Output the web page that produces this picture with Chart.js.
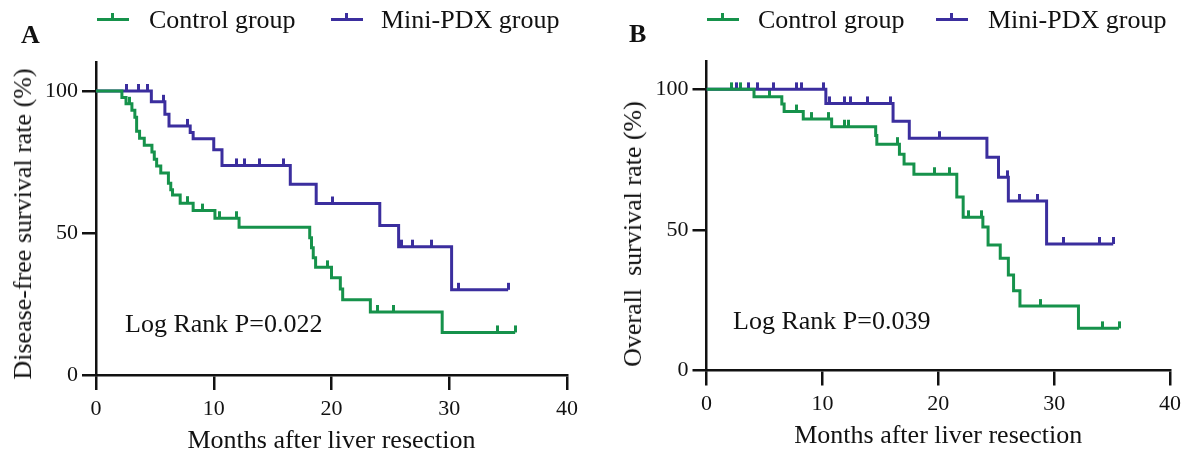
<!DOCTYPE html>
<html>
<head>
<meta charset="utf-8">
<script src="https://cdn.jsdelivr.net/npm/chart.js@4.4.1/dist/chart.umd.min.js"></script>
<style>
  body { margin: 0; background: #fff; }
  #wrap { position: relative; width: 1189px; height: 458px; overflow: hidden; font-family: "Liberation Serif", "Times New Roman", serif; color: #111; }
  .box { position: absolute; top: 0; height: 458px; }
  .txt { position: absolute; font-size: 26px; line-height: 26px; white-space: pre; }
  .ylab { transform: translate(-50%, -50%) rotate(-90deg); }
  .panel { font-weight: bold; }
  .mk { position: absolute; height: 0; border-top: 3px solid; }
  .mk i { position: absolute; left: 14px; top: -8px; width: 3px; height: 6px; }
</style>
</head>
<body>
<div id="wrap">
  <div class="box" style="left:0;width:600px"><canvas id="chartA"></canvas></div>
  <div class="box" style="left:600px;width:589px"><canvas id="chartB"></canvas></div>

  <div class="txt panel" style="left:21px;top:22px">A</div>
  <div class="mk" style="left:97px;top:18px;width:32px;border-color:#16924b"><i style="background:#16924b"></i></div>
  <div class="txt" style="left:149px;top:7px">Control group</div>
  <div class="mk" style="left:331px;top:18px;width:32px;border-color:#3b2e9e"><i style="background:#3b2e9e"></i></div>
  <div class="txt" style="left:381px;top:7px">Mini-PDX group</div>
  <div class="txt ylab" style="left:23px;top:224px">Disease-free survival rate (%)</div>
  <div class="txt" style="left:125px;top:311px">Log Rank P=0.022</div>

  <div class="txt panel" style="left:629px;top:21px">B</div>
  <div class="mk" style="left:707px;top:18px;width:32px;border-color:#16924b"><i style="background:#16924b"></i></div>
  <div class="txt" style="left:758px;top:7px">Control group</div>
  <div class="mk" style="left:936px;top:18px;width:32px;border-color:#3b2e9e"><i style="background:#3b2e9e"></i></div>
  <div class="txt" style="left:988px;top:7px">Mini-PDX group</div>
  <div class="txt ylab" style="left:633px;top:234px">Overall  survival rate (%)</div>
  <div class="txt" style="left:733px;top:308px">Log Rank P=0.039</div>
</div>
<script>
"use strict";
// x axis ticks (months) and y axis ticks (%)
var monthTicks = [0, 10, 20, 30, 40];
var rateTicks = [0, 50, 100];

// A: disease-free survival, control group
var dfsCtrlTimes = [2.2, 2.55, 3.05, 3.3, 3.45, 3.7, 4.1, 4.75, 4.95, 5.15, 5.5, 6.15, 6.35, 6.5, 7.15, 8.25, 10.1, 12.15, 18.15, 18.3, 18.45, 18.65, 20.0, 20.75, 20.95, 23.3, 29.4];
var dfsCtrlRate  = [97.7, 95.5, 93.2, 90.8, 85.8, 83.4, 80.9, 78.5, 76.0, 73.6, 71.1, 67.5, 65.2, 63.4, 60.5, 57.9, 55.2, 52.0, 48.3, 44.8, 41.3, 37.9, 34.2, 30.3, 26.5, 22.2, 15.0];
var dfsCtrlCens  = [2.85, 7.75, 9.05, 10.5, 11.95, 19.7, 23.9, 25.3, 34.1, 35.6];
// A: disease-free survival, Mini-PDX group
var dfsPdxTimes = [4.7, 5.85, 6.2, 8.0, 8.25, 10.0, 10.7, 16.5, 18.7, 24.1, 25.7, 30.2];
var dfsPdxRate  = [96.2, 91.8, 87.7, 85.4, 83.2, 79.3, 73.8, 67.2, 60.4, 52.6, 45.2, 30.0];
var dfsPdxCens  = [2.55, 3.6, 4.4, 5.75, 7.8, 11.95, 12.6, 13.9, 15.9, 20.1, 25.95, 26.9, 28.5, 30.8, 35.0];

// B: overall survival, control group
var osCtrlTimes = [4.1, 6.5, 6.7, 8.35, 10.8, 14.6, 14.7, 16.65, 17.05, 17.9, 21.6, 22.15, 23.85, 24.3, 25.35, 26.05, 26.5, 27.05, 32.1];
var osCtrlRate  = [97.4, 94.8, 92.1, 89.4, 86.7, 83.6, 80.5, 76.9, 73.4, 69.8, 61.7, 54.5, 51.0, 44.6, 39.9, 34.0, 28.4, 22.9, 15.0];
var osCtrlCens  = [2.15, 2.95, 5.4, 7.8, 9.05, 10.55, 11.95, 12.25, 16.5, 19.7, 21.0, 22.6, 23.7, 28.8, 34.2, 35.6];
// B: overall survival, Mini-PDX group
var osPdxTimes = [10.3, 16.1, 17.5, 24.2, 25.2, 26.05, 29.35];
var osPdxRate  = [95.0, 88.6, 82.6, 75.8, 68.7, 60.3, 45.0];
var osPdxCens  = [2.55, 3.6, 4.4, 5.75, 7.8, 8.2, 10.1, 10.6, 11.95, 12.4, 13.9, 15.9, 20.15, 25.95, 27.0, 28.6, 30.8, 33.9, 35.1];

var GREEN = '#16924b', BLUE = '#3b2e9e', INK = '#111';
var FONT = '"Liberation Serif", "Times New Roman", serif';

function levelAt(times, rate, t) {
    var s = 100;
    for (var i = 0; i < times.length; i++) { if (times[i] <= t) s = rate[i]; }
    return s;
}
function curve(times, rate, cens) {
    var pts = [{ x: 0, y: 100 }];
    for (var i = 0; i < times.length; i++) pts.push({ x: times[i], y: rate[i] });
    var end = Math.max.apply(null, cens.concat(times));
    pts.push({ x: end, y: levelAt(times, rate, end) });
    return pts;
}
function censored(times, rate, cens) {
    return cens.map(function (t) { return { x: t, y: levelAt(times, rate, t) }; });
}
function tickImage(color) {
    var c = document.createElement('canvas');
    c.width = 3; c.height = 16;
    var g = c.getContext('2d');
    g.fillStyle = color;
    g.fillRect(0, 1, 3, 7);
    return c;
}

function makeChart(id, box, groups) {
    var datasets = [];
    groups.forEach(function (gr) {
        datasets.push({ type: 'line', data: curve(gr.t, gr.r, gr.c), borderColor: gr.color, borderWidth: 3,
            stepped: 'before', pointRadius: 0, fill: false, borderJoinStyle: 'miter', borderCapStyle: 'butt' });
    });
    groups.forEach(function (gr) {
        datasets.push({ type: 'scatter', data: censored(gr.t, gr.r, gr.c), pointStyle: tickImage(gr.color),
            pointRadius: 4, showLine: false });
    });
    return new Chart(document.getElementById(id), {
        type: 'scatter',
        data: { datasets: datasets },
        options: {
            responsive: true, maintainAspectRatio: false, animation: false,
            layout: { padding: { top: box.top, right: box.right, left: 0, bottom: 0 } },
            plugins: { legend: { display: false }, tooltip: { enabled: false } },
            scales: {
                x: {
                    type: 'linear', min: 0, max: 40,
                    afterFit: function (s) { s.height = box.xh; },
                    afterBuildTicks: function (s) { s.ticks = monthTicks.map(function (v) { return { value: v }; }); },
                    ticks: { color: INK, font: { family: FONT, size: 22 }, padding: 6 },
                    grid: { drawOnChartArea: false, tickLength: 15, color: INK, lineWidth: 2.5 },
                    border: { color: INK, width: 2.5 },
                    title: { display: true, text: 'Months after liver resection', color: INK,
                        font: { family: FONT, size: 26 }, padding: { top: 0, bottom: box.xtp } }
                },
                y: {
                    type: 'linear', min: 0, max: 110,
                    afterFit: function (s) { s.width = box.left; },
                    afterBuildTicks: function (s) { s.ticks = rateTicks.map(function (v) { return { value: v }; }); },
                    ticks: { color: INK, font: { family: FONT, size: 22 }, padding: 4 },
                    grid: { drawOnChartArea: false, tickLength: 14, color: INK, lineWidth: 2.5 },
                    border: { color: INK, width: 2.5 }
                }
            }
        }
    });
}

makeChart('chartA', { left: 96, right: 33, top: 62.6, xh: 83, xtp: 1.4 }, [
    { t: dfsCtrlTimes, r: dfsCtrlRate, c: dfsCtrlCens, color: GREEN },
    { t: dfsPdxTimes, r: dfsPdxRate, c: dfsPdxCens, color: BLUE }
]);
makeChart('chartB', { left: 106.5, right: 19, top: 61.2, xh: 87.5, xtp: 5.9 }, [
    { t: osCtrlTimes, r: osCtrlRate, c: osCtrlCens, color: GREEN },
    { t: osPdxTimes, r: osPdxRate, c: osPdxCens, color: BLUE }
]);
</script>
</body>
</html>
